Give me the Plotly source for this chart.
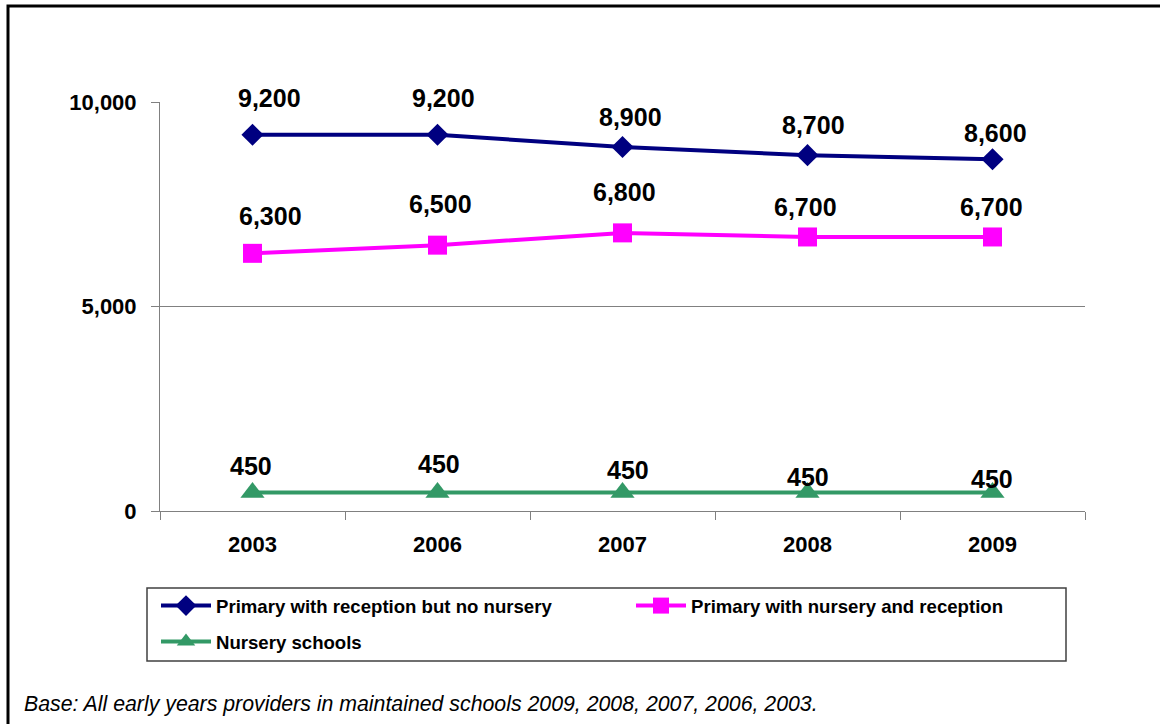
import plotly.graph_objects as go

# ---- data ----
years = ["2003", "2006", "2007", "2008", "2009"]
reception_no_nursery = [9200, 9200, 8900, 8700, 8600]
nursery_and_reception = [6300, 6500, 6800, 6700, 6700]
nursery_schools = [450, 450, 450, 450, 450]

series_names = [
    "Primary with reception but no nursery",
    "Primary with nursery and reception",
    "Nursery schools",
]
y_ticks = [0, 5000, 10000]
grid_values = [5000]
caption = "Base: All early years providers in maintained schools 2009, 2008, 2007, 2006, 2003."

# ---- layout constants (pixels) ----
W, H = 1160, 724
L, R, T, B = 160, 75, 102, 213
PW, PH = W - L - R, H - T - B
FONT = "Liberation Sans, Arial, sans-serif"


def px_x(p):
    return (p - L) / PW


def px_y(p):
    return (H - B - p) / PH


# label nudges (dx, dy in px) for each series' value labels
label_nudges = [
    [(17, 37), (6, 37), (8, 30), (6, 30), (3, 26)],
    [(18, 37), (3, 41), (2, 41), (-2, 30), (-1, 30)],
    [(-2, 27), (1, 29), (5, 23), (0, 16), (-1, 14)],
]

styles = [
    dict(color="#000080", symbol="diamond", size=17),
    dict(color="#FF00FF", symbol="square", size=19),
    dict(color="#339966", symbol="triangle-up", size=21),
]

fig = go.Figure()
all_series = [reception_no_nursery, nursery_and_reception, nursery_schools]
legend_ids = ["legend", "legend2", "legend3"]
for vals, name, st, lg in zip(all_series, series_names, styles, legend_ids):
    fig.add_trace(go.Scatter(
        x=years, y=vals, name=name, mode="lines+markers",
        line=dict(color=st["color"], width=4),
        marker=dict(symbol=st["symbol"], size=st["size"], color=st["color"],
                    line=dict(width=0)),
        legend=lg, cliponaxis=False,
    ))

annotations = []
for vals, nudges in zip(all_series, label_nudges):
    for i, (v, (dx, dy)) in enumerate(zip(vals, nudges)):
        # category axis: position annotations by category index
        annotations.append(dict(
            x=i, y=v, xref="x", yref="y", text=f"{v:,}", showarrow=False,
            xshift=dx, yshift=dy, xanchor="center", yanchor="middle",
            font=dict(family=FONT, size=25, color="black", weight="bold"),
        ))

annotations.append(dict(
    x=px_x(22), y=px_y(704), xref="paper", yref="paper", text=f"<i>{caption}</i>",
    showarrow=False, xanchor="left", yanchor="middle",
    font=dict(family=FONT, size=21.3, color="black"),
))

shapes = []
for g in grid_values:
    shapes.append(dict(type="line", xref="paper", yref="y", x0=0, x1=1, y0=g, y1=g,
                       line=dict(color="#808080", width=1), layer="below"))
# outer chart frame
shapes.append(dict(type="rect", xref="paper", yref="paper",
                   x0=px_x(8), x1=px_x(1170), y0=px_y(6), y1=px_y(740),
                   line=dict(color="black", width=3)))
# legend box
shapes.append(dict(type="rect", xref="paper", yref="paper",
                   x0=px_x(147), x1=px_x(1066), y0=px_y(588), y1=px_y(661),
                   line=dict(color="#404040", width=1.5)))

legend_font = dict(family=FONT, size=18.6, color="black", weight="bold")
legend_common = dict(font=legend_font, bgcolor="rgba(0,0,0,0)", borderwidth=0,
                     xanchor="left", yanchor="middle", itemwidth=50)

fig.update_layout(
    width=W, height=H,
    margin=dict(l=L, r=R, t=T, b=B),
    paper_bgcolor="white", plot_bgcolor="white",
    font=dict(family=FONT, color="black"),
    showlegend=True,
    legend=dict(x=px_x(156), y=px_y(606), **legend_common),
    legend2=dict(x=px_x(631), y=px_y(606), **legend_common),
    legend3=dict(x=px_x(156), y=px_y(642), **legend_common),
    annotations=annotations,
    shapes=shapes,
    xaxis=dict(
        type="category", categoryorder="array", categoryarray=years,
        range=[-0.5, len(years) - 0.5], tickangle=0,
        tickson="boundaries", ticks="outside", ticklen=8, tickcolor="#808080",
        showline=True, linecolor="#808080", linewidth=1, showgrid=False,
        tickfont=dict(family=FONT, size=22, color="black", weight="bold"),
        ticklabelstandoff=14, fixedrange=True,
    ),
    yaxis=dict(
        range=[0, 10000], tickvals=y_ticks, tickformat=",",
        ticks="outside", ticklen=8, tickcolor="#808080",
        showline=True, linecolor="#808080", linewidth=1, showgrid=False,
        zeroline=False,
        tickfont=dict(family=FONT, size=22, color="black", weight="bold"),
        ticklabelstandoff=10, fixedrange=True,
    ),
)

fig.write_html("out.html")
